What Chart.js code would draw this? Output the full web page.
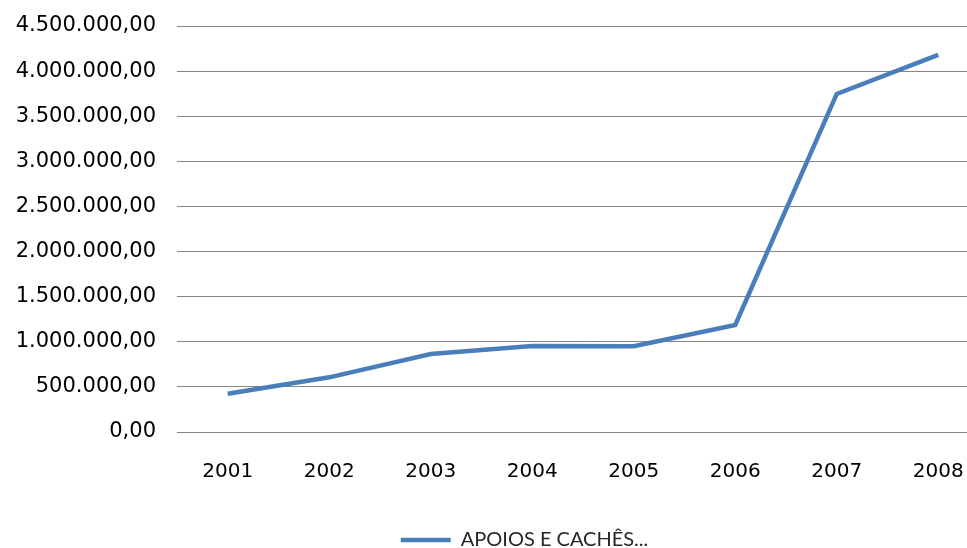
<!DOCTYPE html>
<html>
<head>
<meta charset="utf-8">
<script src="https://cdn.jsdelivr.net/npm/chart.js@4/dist/chart.umd.min.js"></script>
<style>
    html, body { margin: 0; padding: 0; background: #fff; overflow: hidden; }
    #wrap { width: 990px; height: 560px; }
</style>
</head>
<body>
<div id="wrap"><canvas id="chart"></canvas></div>
<script>
// data
const years = ['2001', '2002', '2003', '2004', '2005', '2006', '2007', '2008'];
const apoios = [425000, 606000, 865000, 953000, 950000, 1186000, 3747000, 4180000];
const seriesLabel = 'APOIOS E CACHÊS...';

// 4500000 -> "4.500.000,00"
function brl(v) {
    let s = Math.round(v).toString().replace(/\B(?=(\d{3})+(?!\d))/g, '.');
    return s + ',00';
}

// legend in the original sits a bit right of the canvas centre
const shiftLegend = {
    id: 'shiftLegend',
    afterLayout(chart) {
        chart.legend.left += 30;
        chart.legend.right += 30;
    }
};

const data = {
    labels: years,
    datasets: [{
        label: seriesLabel,
        data: apoios,
        borderColor: '#4a7ebb',
        backgroundColor: '#4a7ebb',
        borderWidth: 4.5,
        pointRadius: 0,
        tension: 0
    }]
};

const config = {
    type: 'line',
    data: data,
    plugins: [shiftLegend],
    options: {
        responsive: true,
        maintainAspectRatio: false,
        animation: false,
        layout: { padding: { top: 26, right: 1, left: 0, bottom: 0 } },
        plugins: {
            tooltip: { enabled: false },
            legend: {
                position: 'bottom',
                labels: {
                    usePointStyle: true,
                    pointStyle: 'line',
                    pointStyleWidth: 50,
                    padding: 10,
                    color: '#262626',
                    font: { family: 'Lato', size: 20 }
                }
            }
        },
        scales: {
            x: {
                offset: true,
                grid: { display: false },
                border: { display: false },
                ticks: {
                    color: '#000',
                    padding: 20,
                    maxRotation: 0,
                    font: { family: 'DejaVu Sans', size: 20 }
                },
                afterFit: function(scale) { scale.height = 88; }
            },
            y: {
                min: 0,
                max: 4500000,
                grid: { color: '#868686', lineWidth: 1, drawTicks: false },
                border: { display: false },
                ticks: {
                    stepSize: 500000,
                    color: '#000',
                    padding: 21,
                    // small lineHeight so the top label doesn't push the plot down
                    font: { family: 'DejaVu Sans', size: 21, lineHeight: 0.2 },
                    callback: function(v) { return brl(v); }
                },
                afterFit: function(scale) { scale.width = 177; }
            }
        }
    }
};

const mainChart = new Chart(document.getElementById('chart'), config);
</script>
</body>
</html>
